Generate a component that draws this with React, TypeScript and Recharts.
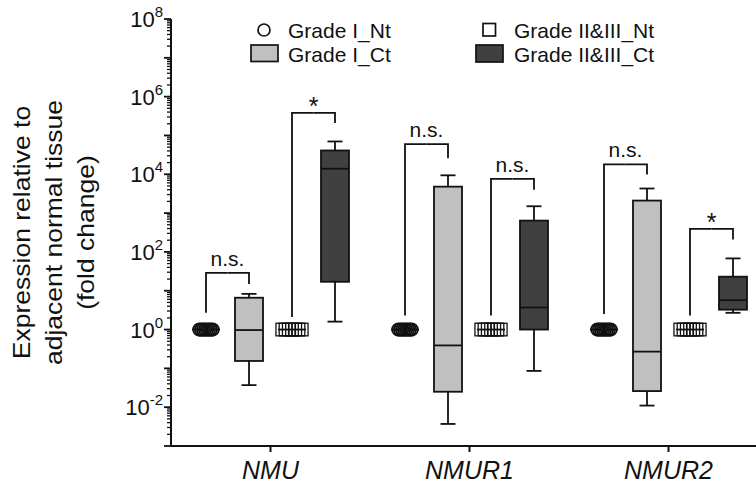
import React from "react";
import { BarChart, Bar, XAxis, YAxis, Legend } from "recharts";

// genes on the x axis
const genes = ["NMU", "NMUR1", "NMUR2"];

// normal tissue samples (fold change is 1 by definition)
const ntGradeI = [1, 1, 1, 1, 1, 1, 1, 1];
const ntGradeII = [1, 1, 1, 1, 1, 1, 1];

// cancer tissue, per gene: [min, q1, median, q3, max]
const ctGradeI = [
  [0.037, 0.155, 0.97, 6.6, 8.3],
  [0.0037, 0.025, 0.39, 4800, 9400],
  [0.011, 0.026, 0.27, 2100, 4300],
];
const ctGradeII = [
  [1.6, 17, 13900, 41000, 70000],
  [0.086, 1.0, 3.7, 640, 1500],
  [2.7, 3.25, 5.7, 23, 68],
];

// significance brackets, per gene
const sigGradeI = ["n.s.", "n.s.", "n.s."];
const sigGradeII = ["*", "n.s.", "*"];
const bracketTopI = [29, 60000, 18000];
const bracketNtEndI = [2.7, 2.3, 2.5];
const bracketCtEndI = [15, 26000, 9800];
const bracketTopII = [380000, 7600, 390];
const bracketNtEndII = [2.1, 2.3, 2.3];
const bracketCtEndII = [210000, 4000, 210];

const legendLabels = ["Grade I_Nt", "Grade I_Ct", "Grade II&III_Nt", "Grade II&III_Ct"];
const labelledExponents = [-2, 0, 2, 4, 6, 8];

const INK = "#111";
const GRAY = "#c0c0c0";
const DARK = "#404040";
const FONT = "'Liberation Sans', Arial, Helvetica, sans-serif";
const BAR_GAP = 15;
const CAP = 15;
const LW = 1.8;

const yTicks: number[] = [];
for (let e = -3; e < 8; e++) {
  for (let m = 1; m <= 9; m++) yTicks.push(m * Math.pow(10, e));
}
yTicks.push(1e8);

const quant = (s: number[], q: number) => {
  const a = [...s].sort((u, v) => u - v);
  const pos = (a.length - 1) * q;
  const lo = Math.floor(pos);
  const hi = Math.ceil(pos);
  return a[lo] + (a[hi] - a[lo]) * (pos - lo);
};
const fromSamples = (s: number[]) => [0, 0.25, 0.5, 0.75, 1].map((q) => quant(s, q));

const rows = genes.map((gene, i) => {
  const groups = [fromSamples(ntGradeI), ctGradeI[i], fromSamples(ntGradeII), ctGradeII[i]];
  const r: any = { gene };
  groups.forEach((g, k) => {
    r[`w${k}`] = [g[0], g[4]];
    r[`b${k}`] = [g[1], g[3]];
    r[`m${k}`] = [g[2], g[2]];
  });
  r.s0 = [bracketNtEndI[i], bracketTopI[i]];
  r.s1 = [bracketCtEndI[i], bracketTopI[i]];
  r.s2 = [bracketNtEndII[i], bracketTopII[i]];
  r.s3 = [bracketCtEndII[i], bracketTopII[i]];
  r.lab1 = sigGradeI[i];
  r.lab3 = sigGradeII[i];
  return r;
});

const span = (y: number, height: number) => [Math.min(y, y + height), Math.max(y, y + height)];

const Whisker = (p: any) => {
  const { x, y, width, height } = p;
  if (x == null || y == null) return null;
  const [top, bot] = span(y, height);
  if (bot - top < 0.5) return null;
  const cx = x + width / 2;
  return (
    <g stroke={INK} strokeWidth={LW}>
      <line x1={cx} x2={cx} y1={top} y2={bot} />
      <line x1={cx - CAP / 2} x2={cx + CAP / 2} y1={top} y2={top} />
      <line x1={cx - CAP / 2} x2={cx + CAP / 2} y1={bot} y2={bot} />
    </g>
  );
};

const Box = (p: any) => {
  const { x, y, width, height, fill } = p;
  if (x == null || y == null) return null;
  const [top, bot] = span(y, height);
  if (bot - top < 0.5) return null;
  return <rect x={x} y={top} width={width} height={bot - top} fill={fill} stroke={INK} strokeWidth={LW} />;
};

const Median = (p: any) => {
  const { x, y, width } = p;
  if (x == null || y == null) return null;
  return <line x1={x} x2={x + width} y1={y} y2={y} stroke={INK} strokeWidth={LW} />;
};

const NtMarks = (p: any) => {
  const { x, y, width, kind, n } = p;
  if (x == null || y == null) return null;
  const cx = x + width / 2;
  const step = kind === "circle" ? 1.9 : 3.25;
  const xs = Array.from({ length: n }, (_, i) => cx + (i - (n - 1) / 2) * step);
  return (
    <g>
      <line x1={x} x2={x + width} y1={y} y2={y} stroke={INK} strokeWidth={LW} />
      {xs.map((mx, i) =>
        kind === "circle" ? (
          <circle key={i} cx={mx} cy={y} r={6.2} fill="none" stroke={INK} strokeWidth={1.9} />
        ) : (
          <rect key={i} x={mx - 6.3} y={y - 6.3} width={12.6} height={12.6} fill="none" stroke={INK} strokeWidth={1.3} />
        )
      )}
    </g>
  );
};

const Bracket = (p: any) => {
  const { x, y, width, height, side, labelKey, payload } = p;
  if (x == null || y == null) return null;
  const [top, bot] = span(y, height);
  const cx = x + width / 2;
  const half = (width + BAR_GAP) / 2;
  const hx = side === "left" ? cx + half : cx - half;
  const label = labelKey ? payload[labelKey] : null;
  const star = label === "*";
  return (
    <g>
      <path d={`M${cx},${bot} L${cx},${top} L${hx},${top}`} fill="none" stroke={INK} strokeWidth={LW} />
      {label && (
        <text
          x={hx}
          y={star ? top + 2 : top - 7}
          textAnchor="middle"
          fontFamily={FONT}
          fontSize={star ? 25 : 21}
          fill={INK}
        >
          {label}
        </text>
      )}
    </g>
  );
};

const YTick = (props: any) => {
  const { x, y, payload } = props;
  const v = payload.value;
  const e = Math.round(Math.log10(v));
  const decade = Math.abs(v / Math.pow(10, e) - 1) < 1e-6;
  const labelled = decade && labelledExponents.includes(e);
  return (
    <g>
      <line x1={x - (decade ? 7 : 4)} x2={x} y1={y} y2={y} stroke={INK} strokeWidth={decade ? 1.8 : 1.3} />
      {labelled && (
        <text x={x - 8} y={y + 8} textAnchor="end" fontFamily={FONT} fontSize={22} fill={INK}>
          10
          <tspan dy={-10} fontSize={15}>
            {e}
          </tspan>
        </text>
      )}
    </g>
  );
};

const XTick = (props: any) => {
  const { x, y, payload } = props;
  return (
    <text x={x} y={y + 27} textAnchor="middle" fontFamily={FONT} fontStyle="italic" fontSize={25} fill={INK}>
      {payload.value}
    </text>
  );
};

const YLabel = (props: any) => {
  const vb = props.viewBox || { x: 0, y: 19, height: 427 };
  const cy = vb.y + vb.height / 2;
  const lines = ["Expression relative to", "adjacent normal tissue", "(fold change)"];
  const bases = [30, 62, 94];
  return (
    <g>
      {lines.map((t, i) => (
        <text
          key={i}
          transform={`translate(${vb.x + bases[i]},${cy}) rotate(-90) scale(1,0.88)`}
          textAnchor="middle"
          fontFamily={FONT}
          fontSize={26.5}
          fill={INK}
        >
          {t}
        </text>
      ))}
    </g>
  );
};

const LegendBox = () => (
  <svg width={756} height={72} style={{ display: "block" }}>
    <g fontFamily={FONT} fontSize={21} fill={INK}>
      <circle cx={264} cy={30} r={6} fill="none" stroke={INK} strokeWidth={1.7} />
      <text x={288} y={37.5}>{legendLabels[0]}</text>
      <rect x={251} y={45} width={27} height={16.5} fill={GRAY} stroke={INK} strokeWidth={1.7} />
      <text x={288} y={61.5}>{legendLabels[1]}</text>
      <rect x={483} y={23.5} width={12.5} height={12.5} fill="#fff" stroke={INK} strokeWidth={1.7} />
      <text x={514} y={37.5}>{legendLabels[2]}</text>
      <rect x={476} y={45} width={27} height={17} fill={DARK} stroke={INK} strokeWidth={1.7} />
      <text x={514} y={61.5}>{legendLabels[3]}</text>
    </g>
  </svg>
);

const boxFills = ["#fff", GRAY, "#fff", DARK];
const axisStroke = { stroke: INK, strokeWidth: 2 };

export default function App() {
  return (
    <div
      style={{
        position: "fixed",
        left: 0,
        top: 0,
        width: 756,
        height: 484,
        overflow: "hidden",
        background: "#fff",
      }}
    >
      <BarChart
        width={790}
        height={484}
        data={rows}
        margin={{ top: 19, right: 22, bottom: 0, left: 0 }}
        barSize={28}
        barGap={BAR_GAP}
      >
        <XAxis
          xAxisId={0}
          dataKey="gene"
          height={38}
          tickSize={6}
          tickMargin={0}
          axisLine={axisStroke}
          tickLine={axisStroke}
          tick={<XTick />}
        />
        <XAxis xAxisId={1} dataKey="gene" hide height={0} />
        <XAxis xAxisId={2} dataKey="gene" hide height={0} />
        <XAxis xAxisId={3} dataKey="gene" hide height={0} />
        <YAxis
          type="number"
          scale="log"
          domain={[1e-3, 1e8]}
          allowDataOverflow
          ticks={yTicks}
          interval={0}
          width={171}
          tickSize={0}
          tickMargin={0}
          axisLine={axisStroke}
          tickLine={false}
          tick={<YTick />}
          label={<YLabel />}
        />
        <Legend
          layout="horizontal"
          verticalAlign="middle"
          align="center"
          content={() => <LegendBox />}
          wrapperStyle={{ position: "absolute", left: 0, top: 0, width: 756, height: 72 }}
        />
        {[0, 1, 2, 3].map((k) => (
          <Bar key={`w${k}`} xAxisId={0} dataKey={`w${k}`} shape={Whisker} isAnimationActive={false} />
        ))}
        {[0, 1, 2, 3].map((k) => (
          <Bar
            key={`b${k}`}
            xAxisId={1}
            dataKey={`b${k}`}
            fill={boxFills[k]}
            shape={Box}
            isAnimationActive={false}
          />
        ))}
        {[0, 1, 2, 3].map((k) => (
          <Bar
            key={`m${k}`}
            xAxisId={2}
            dataKey={`m${k}`}
            shape={
              k === 0
                ? (p: any) => <NtMarks {...p} kind="circle" n={ntGradeI.length} />
                : k === 2
                ? (p: any) => <NtMarks {...p} kind="square" n={ntGradeII.length} />
                : Median
            }
            isAnimationActive={false}
          />
        ))}
        {[0, 1, 2, 3].map((k) => (
          <Bar
            key={`s${k}`}
            xAxisId={3}
            dataKey={`s${k}`}
            shape={(p: any) => (
              <Bracket {...p} side={k % 2 === 0 ? "left" : "right"} labelKey={k % 2 === 1 ? `lab${k}` : null} />
            )}
            isAnimationActive={false}
          />
        ))}
      </BarChart>
    </div>
  );
}
